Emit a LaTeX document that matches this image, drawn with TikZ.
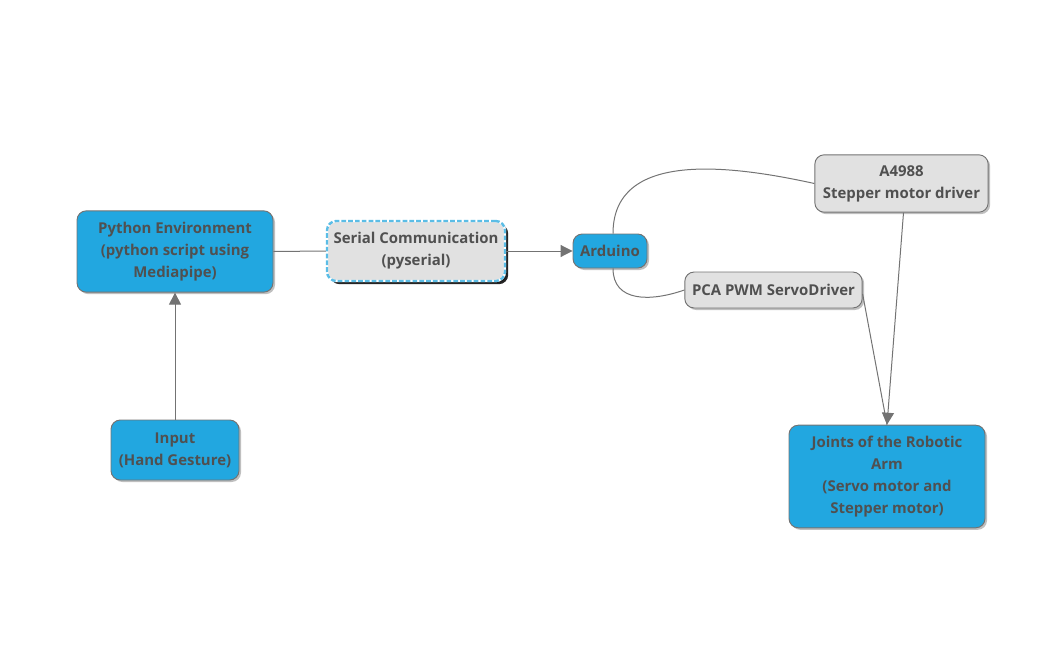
\documentclass[tikz,border=0pt]{standalone}
\usepackage{fontspec}
\setmainfont{Open Sans}
\usetikzlibrary{shadows,arrows.meta}
\definecolor{bluefill}{HTML}{22A7E0}
\definecolor{grayfill}{HTML}{E1E1E1}
\definecolor{edgecol}{HTML}{737373}
\definecolor{txtcol}{HTML}{505050}
\definecolor{dashblue}{HTML}{5BBDE6}
\tikzset{
  box/.style={rounded corners=7pt, draw=edgecol, line width=0.7pt, text=txtcol,
    font=\bfseries\fontsize{11.2}{16.5}\selectfont, align=center, inner sep=0pt,
    drop shadow={shadow xshift=1.5pt, shadow yshift=-1.5pt, fill=black, opacity=0.25}},
  bluebox/.style={box, fill=bluefill},
  graybox/.style={box, fill=grayfill},
  conn/.style={draw=edgecol, line width=0.75pt},
  arr/.style={conn, -{Triangle[length=9pt,width=9pt]}, color=edgecol},
}
\begin{document}
\begin{tikzpicture}[x=0.75pt,y=-0.75pt]
\useasboundingbox (0,0) rectangle (1059,649);
\node[bluebox, minimum width=147pt, minimum height=61pt] (py) at (175,251.5)
  {Python Environment\\(python script using\\Mediapipe)};
\node[graybox, minimum width=133.5pt, minimum height=45pt, draw=white, line width=1.8pt,
  drop shadow={shadow xshift=2.4pt, shadow yshift=-2.4pt, fill=black, opacity=0.85},
  postaction={draw=dashblue, line width=1.8pt, dash pattern=on 3.5pt off 1.6pt, rounded corners=7pt}]
  (ser) at (416,251) {Serial Communication\\(pyserial)};
\node[bluebox, minimum width=55.5pt, minimum height=25.5pt] (ard) at (610,251) {Arduino};
\node[graybox, minimum width=130pt, minimum height=43pt] (a49) at (901.5,183.5)
  {A4988\\Stepper motor driver};
\node[graybox, minimum width=133pt, minimum height=27pt] (pca) at (773.5,290) {PCA PWM ServoDriver};
\node[bluebox, minimum width=147pt, minimum height=77pt] (jnt) at (887,476.5)
  {Joints of the Robotic\\Arm\\(Servo motor and\\Stepper motor)};
\node[bluebox, minimum width=96pt, minimum height=45pt] (inp) at (175,450)
  {Input\\(Hand Gesture)};

\draw[arr] (inp.north) -- (py.south);
\draw[conn] (py.east) -- (ser.west);
\draw[arr] (ser.east) -- (ard.west);
\draw[conn] ([xshift=2.25pt]ard.north) .. controls (613,150) and (730,165) .. (a49.west);
\draw[conn] ([xshift=2.25pt]ard.south) .. controls (613,302) and (650,302) .. (pca.west);
\draw[conn] ([yshift=-3pt]pca.east) -- (jnt.north);
\draw[arr] ([xshift=1.5pt]a49.south) -- (jnt.north);
\end{tikzpicture}
\end{document}
